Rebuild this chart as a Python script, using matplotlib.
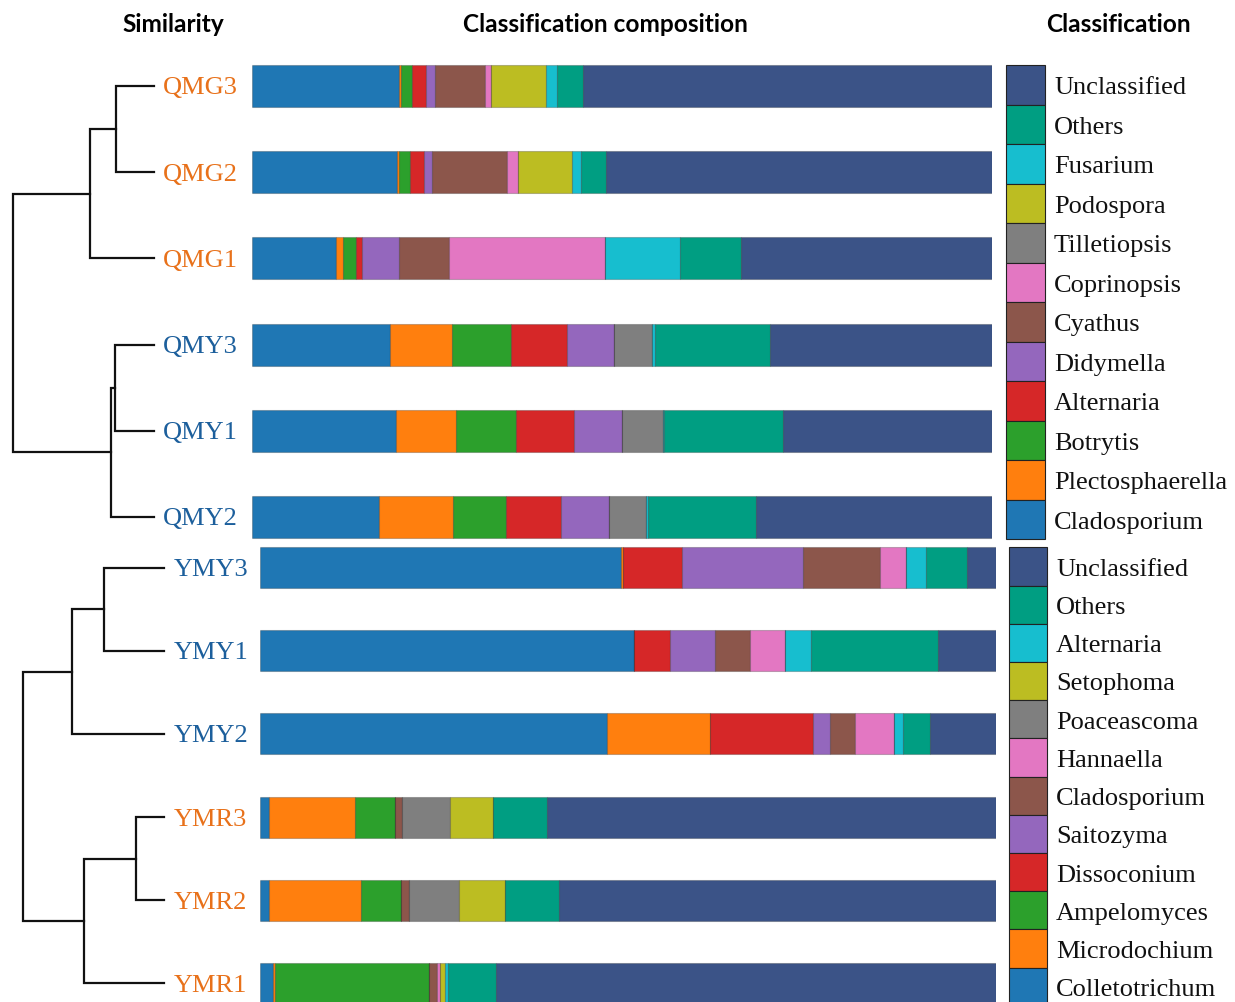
import matplotlib
matplotlib.use('Agg')
import matplotlib.pyplot as plt
import numpy as np

# ---------------- data ----------------
top_samples = ["QMG3", "QMG2", "QMG1", "QMY3", "QMY1", "QMY2"]
top_sample_colors = ["orange", "orange", "orange", "blue", "blue", "blue"]
top_genera = ["Cladosporium", "Plectosphaerella", "Botrytis", "Alternaria", "Didymella",
              "Cyathus", "Coprinopsis", "Tilletiopsis", "Podospora", "Fusarium",
              "Others", "Unclassified"]
# percentages, one row per sample (columns follow top_genera)
QMG3 = [19.9, 0.3, 1.4, 1.9, 1.2, 6.8, 0.8, 0.0, 7.4, 1.5, 3.5, 55.3]
QMG2 = [19.6, 0.3, 1.4, 1.9, 1.1, 10.2, 1.4, 0.0, 7.3, 1.3, 3.3, 52.2]
QMG1 = [11.4, 0.9, 1.8, 0.8, 4.9, 6.8, 21.1, 0.0, 0.0, 10.2, 8.2, 33.9]
QMY3 = [18.6, 8.4, 8.0, 7.6, 6.3, 0.0, 0.0, 5.2, 0.0, 0.3, 15.6, 30.0]
QMY1 = [19.4, 8.1, 8.2, 7.8, 6.5, 0.0, 0.0, 5.5, 0.0, 0.2, 16.1, 28.2]
QMY2 = [17.1, 10.1, 7.1, 7.5, 6.5, 0.0, 0.0, 4.9, 0.0, 0.3, 14.6, 31.9]
top_values = [QMG3, QMG2, QMG1, QMY3, QMY1, QMY2]
# dendrogram merges (child_a, child_b, height); leaves are row indices
top_merges = [(0, 1, 0.267), (6, 2, 0.453), (3, 4, 0.274), (8, 5, 0.304), (7, 9, 1.0)]

bot_samples = ["YMY3", "YMY1", "YMY2", "YMR3", "YMR2", "YMR1"]
bot_sample_colors = ["blue", "blue", "blue", "orange", "orange", "orange"]
bot_genera = ["Colletotrichum", "Microdochium", "Ampelomyces", "Dissoconium", "Saitozyma",
              "Cladosporium", "Hannaella", "Poaceascoma", "Setophoma", "Alternaria",
              "Others", "Unclassified"]
YMY3 = [49.1, 0.2, 0.0, 8.1, 16.4, 10.5, 3.5, 0.0, 0.0, 2.7, 5.6, 3.9]
YMY1 = [50.8, 0.0, 0.0, 4.9, 6.1, 4.8, 4.7, 0.0, 0.0, 3.5, 17.3, 7.9]
YMY2 = [47.1, 14.0, 0.0, 14.0, 2.3, 3.4, 5.3, 0.0, 0.0, 1.2, 3.7, 9.0]
YMR3 = [1.2, 11.7, 5.4, 0.0, 0.0, 1.0, 0.0, 6.5, 5.9, 0.0, 7.3, 61.0]
YMR2 = [1.2, 12.5, 5.4, 0.0, 0.0, 1.1, 0.0, 6.9, 6.2, 0.0, 7.3, 59.4]
YMR1 = [1.8, 0.2, 21.0, 0.0, 0.0, 1.1, 0.4, 0.0, 0.6, 0.5, 6.4, 68.0]
bot_values = [YMY3, YMY1, YMY2, YMR3, YMR2, YMR1]
bot_merges = [(0, 1, 0.426), (6, 2, 0.652), (3, 4, 0.200), (8, 5, 0.567), (7, 9, 1.0)]

headers = ["Similarity", "Classification composition", "Classification"]

# ---------------- style ----------------
seg_colors = ["#1f77b4", "#ff7f0e", "#2ca02c", "#d62728", "#9467bd", "#8c564b",
              "#e377c2", "#7f7f7f", "#bcbd22", "#17becf", "#009e82", "#3b5387"]
label_col = {"orange": "#e8711a", "blue": "#1c5f9c"}
SERIF = "Liberation Serif"
W, H = 1235, 1003
fig = plt.figure(figsize=(W / 100, H / 100), dpi=100)


def px_axes(x0, y0, x1, y1):
    ax = fig.add_axes([x0 / W, 1 - y1 / H, (x1 - x0) / W, (y1 - y0) / H])
    ax.set_axis_off()
    return ax


def draw_panel(values, genera, samples, scolors, merges,
               bar_x0, bar_x1, c0, step, bar_h_px,
               den_x0, den_x1, lab_off,
               leg_x0, leg_x1, leg_y0, leg_step):
    n = len(samples)
    y0 = c0 - step / 2
    y1 = c0 + step * (n - 1) + step / 2
    # stacked bars
    ax = px_axes(bar_x0, y0, bar_x1, y1)
    ax.set_xlim(0, 100)
    ax.set_ylim(n - 0.5, -0.5)
    vals = np.array(values)
    left = np.zeros(n)
    for j in range(len(genera)):
        ax.barh(np.arange(n), vals[:, j], left=left, height=bar_h_px / step,
                color=seg_colors[j], edgecolor=(0, 0, 0, 0.22), linewidth=0.8)
        left += vals[:, j]
    # dendrogram
    ad = px_axes(den_x0, y0, den_x1, y1)
    ad.set_xlim(1.0, 0.0)
    ad.set_ylim(n - 0.5, -0.5)
    pos = {i: (float(i), 0.0) for i in range(n)}
    nid = n
    for a, b, h in merges:
        ya, da = pos[a]
        yb, db = pos[b]
        ad.plot([da, h, h, db], [ya, ya, yb, yb], color="#111111", lw=1.6,
                solid_joinstyle="miter", clip_on=False)
        pos[nid] = ((ya + yb) / 2, h)
        nid += 1
    for i, s in enumerate(samples):
        ad.annotate(s, (0.0, i), xytext=(lab_off, 1), textcoords="offset pixels",
                    ha="left", va="center_baseline", fontsize=19, family=SERIF,
                    color=label_col[scolors[i]], annotation_clip=False)
    # legend
    m = len(genera)
    al = px_axes(leg_x0, leg_y0, leg_x1, leg_y0 + leg_step * m)
    al.set_xlim(0, 1)
    al.set_ylim(m, 0)
    order = list(range(m))[::-1]
    for k, j in enumerate(order):
        al.bar(0.5, 1, bottom=k, width=1, color=seg_colors[j],
               edgecolor="#222222", linewidth=0.8, clip_on=False)
        al.annotate(genera[j], (1.0, k + 0.5), xytext=(9, 0), textcoords="offset pixels",
                    ha="left", va="center_baseline", fontsize=19, family=SERIF,
                    color="#111111", annotation_clip=False)


draw_panel(top_values, top_genera, top_samples, top_sample_colors, top_merges,
           252, 992, 87.0, 86.2, 42,
           12.7, 154, 9,
           1006, 1045, 66, 39.5)
draw_panel(bot_values, bot_genera, bot_samples, bot_sample_colors, bot_merges,
           260, 996, 568.5, 83.2, 41,
           23.3, 164.3, 9,
           1009, 1047, 548.3, 38.2)

for txt, xc in zip(headers, [173, 605, 1118]):
    fig.text(xc / W, 1 - 24 / H, txt, ha="center", va="center",
             fontsize=17.6, fontweight="bold", family="Lato", color="#000000")

fig.savefig("out.png", dpi=100)
